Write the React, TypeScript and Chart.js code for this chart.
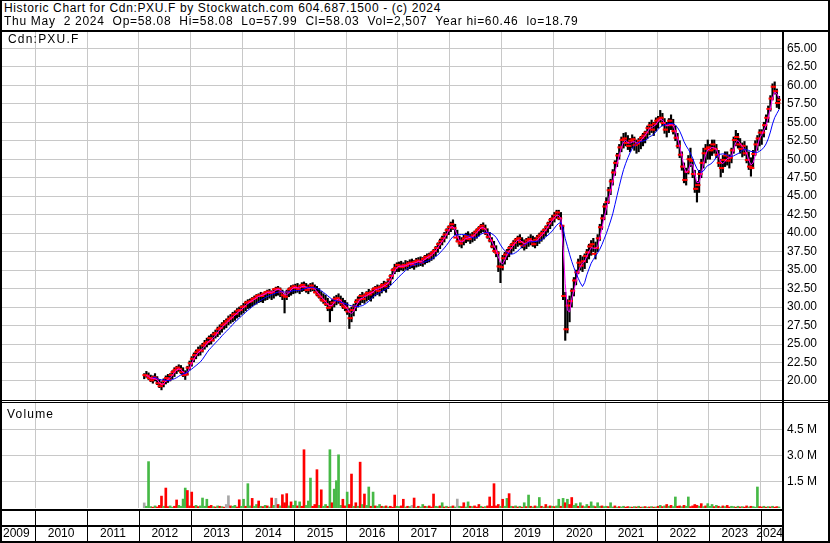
import React, { useEffect, useRef } from "react";
import { Chart, registerables } from "chart.js";

Chart.register(...registerables);

const FONT = "'Liberation Sans', Arial, sans-serif";

// Half-month periods, first one = first half of Feb 2012
const FIRST_PERIOD = 2012 + 1 / 12;
const PERIODS_PER_YEAR = 24;

const lows: number[] = [
  20.3, 20.5, 20.2, 19.9, 19.7, 20.0, 19.5, 19.1, 18.8, 19.2, 19.6, 19.8, 20.0, 20.3, 20.6, 21.0, 21.3, 21.0, 20.6, 20.2, 20.8, 21.5,
  22.0, 22.6, 23.0, 23.4, 23.5, 23.9, 24.3, 24.6, 24.9, 25.0, 25.4, 25.8, 26.0, 26.3, 26.6, 27.0, 27.2, 27.6, 27.8, 28.0, 28.2, 28.5, 28.7, 29.0,
  29.2, 29.5, 29.8, 29.9, 30.1, 30.3, 30.4, 30.6, 30.7, 30.6, 30.9, 31.0, 31.2, 31.0, 31.2, 31.5, 31.6, 31.4, 31.0, 29.2, 31.0, 31.4, 31.6, 31.8,
  31.9, 32.0, 31.8, 32.1, 32.2, 32.0, 31.8, 32.1, 32.2, 31.9, 31.5, 31.2, 30.8, 30.5, 30.2, 29.5, 28.0, 29.5, 30.0, 30.3, 30.5, 30.2, 29.8, 29.5,
  29.0, 27.1, 28.0, 28.8, 29.5, 30.0, 30.3, 30.6, 30.5, 30.8, 31.0, 30.8, 31.2, 31.5, 31.7, 31.5, 31.9, 32.2, 32.0, 32.5, 33.0, 33.8, 34.5, 34.8,
  34.8, 35.0, 34.9, 35.1, 35.0, 35.2, 35.3, 35.1, 35.4, 35.5, 35.6, 35.5, 35.8, 36.0, 36.1, 36.3, 36.5, 36.9, 37.4, 37.9, 38.4, 38.8, 39.3, 39.8,
  40.2, 40.5, 39.8, 38.8, 38.2, 38.0, 38.4, 38.7, 38.9, 38.6, 38.8, 39.0, 39.3, 39.6, 40.0, 40.2, 39.8, 39.3, 38.8, 38.0, 37.4, 36.8, 34.8, 33.3,
  35.0, 35.8, 36.4, 36.8, 37.2, 37.6, 37.9, 38.2, 38.4, 38.0, 37.7, 37.9, 38.2, 38.4, 38.2, 38.0, 38.3, 38.6, 38.9, 39.2, 39.6, 40.1, 40.6, 41.0,
  41.5, 42.0, 41.8, 40.5, 31.0, 25.5, 26.5, 28.0, 30.0, 31.5, 33.0, 34.5, 35.0, 34.8, 35.2, 36.0, 36.5, 37.0, 37.5, 36.5, 37.5, 39.0, 40.5, 41.8,
  42.5, 44.0, 45.2, 46.5, 47.8, 49.0, 50.0, 51.0, 51.5, 51.8, 51.3, 51.0, 51.5, 51.2, 50.8, 51.0, 51.4, 51.8, 52.2, 52.8, 53.3, 53.6, 53.2, 53.8,
  54.2, 55.0, 54.5, 53.5, 53.0, 53.6, 54.0, 53.4, 52.5, 51.5, 50.2, 48.5, 46.8, 46.5, 48.0, 49.0, 47.5, 45.5, 44.2, 45.5, 47.5, 48.8, 49.5, 50.0,
  50.0, 50.5, 50.8, 50.2, 49.0, 47.6, 48.2, 49.0, 49.2, 48.8, 49.5, 50.8, 51.8, 51.5, 50.8, 50.3, 50.5, 49.5, 48.6, 47.7, 49.0, 50.5, 51.2, 51.8,
  52.0, 53.0, 54.0, 55.0, 56.5, 58.0, 58.8, 57.0, 56.8,
];

const highs: number[] = [
  21.0, 21.3, 21.1, 20.8, 20.7, 21.0, 20.6, 20.2, 19.9, 20.3, 20.7, 20.9, 21.0, 21.4, 21.8, 22.0, 22.2, 22.1, 21.8, 21.4, 22.0, 22.7,
  23.3, 23.8, 24.2, 24.6, 24.8, 25.1, 25.5, 25.8, 26.1, 26.3, 26.6, 26.9, 27.3, 27.6, 27.9, 28.2, 28.4, 28.8, 29.0, 29.3, 29.5, 29.8, 30.0, 30.2,
  30.5, 30.8, 31.0, 31.1, 31.3, 31.5, 31.7, 31.8, 32.0, 31.9, 32.1, 32.3, 32.4, 32.2, 32.5, 32.7, 32.8, 32.6, 32.3, 31.8, 32.3, 32.6, 32.9, 33.0,
  33.1, 33.2, 33.0, 33.3, 33.4, 33.2, 33.0, 33.2, 33.3, 33.0, 32.8, 32.5, 32.1, 31.8, 31.6, 31.2, 30.8, 31.0, 31.4, 31.6, 31.8, 31.5, 31.2, 30.9,
  30.6, 29.8, 30.0, 30.4, 31.0, 31.4, 31.7, 32.0, 31.8, 32.1, 32.4, 32.2, 32.6, 32.8, 33.0, 32.9, 33.2, 33.5, 33.4, 33.8, 34.4, 35.2, 35.8, 36.0,
  36.1, 36.2, 36.0, 36.3, 36.2, 36.4, 36.5, 36.3, 36.6, 36.7, 36.8, 36.7, 37.0, 37.2, 37.3, 37.5, 37.8, 38.2, 38.7, 39.2, 39.6, 40.1, 40.6, 41.0,
  41.5, 41.8, 41.2, 40.4, 39.6, 39.4, 39.7, 40.0, 40.2, 39.9, 40.1, 40.3, 40.6, 40.9, 41.2, 41.4, 41.1, 40.6, 40.1, 39.4, 38.9, 38.3, 37.5, 36.0,
  37.0, 37.4, 37.8, 38.2, 38.6, 39.0, 39.3, 39.6, 39.8, 39.4, 39.1, 39.3, 39.5, 39.8, 39.6, 39.4, 39.7, 40.0, 40.3, 40.6, 41.0, 41.5, 42.0, 42.4,
  42.8, 43.1, 43.1, 42.8, 41.0, 32.0, 31.0, 31.5, 32.5, 34.0, 35.0, 36.5, 37.0, 36.8, 37.2, 37.8, 38.5, 39.0, 39.3, 38.8, 39.8, 41.2, 42.5, 44.0,
  44.8, 46.2, 47.3, 48.6, 49.8, 50.8, 52.0, 53.0, 53.5, 53.6, 53.2, 52.8, 53.3, 53.0, 52.6, 52.8, 53.1, 53.5, 53.8, 54.5, 55.0, 55.3, 55.0, 55.6,
  55.8, 56.6, 56.2, 55.5, 55.0, 55.5, 56.0, 55.4, 54.5, 53.5, 52.5, 51.0, 49.5, 48.8, 50.5, 51.5, 50.0, 48.5, 47.0, 48.5, 50.0, 51.5, 52.0, 52.6,
  52.0, 52.6, 52.6, 52.0, 51.2, 50.0, 50.5, 51.0, 51.0, 50.6, 51.5, 53.0, 53.9, 53.5, 52.8, 52.2, 52.4, 51.8, 51.0, 50.2, 51.2, 52.5, 53.2, 54.0,
  54.0, 55.0, 56.0, 57.2, 58.6, 60.2, 60.46, 59.5, 58.5,
];

const closes: number[] = [
  20.8, 20.7, 20.4, 20.1, 20.5, 20.3, 19.7, 19.3, 19.6, 20.0, 20.4, 20.2, 20.8, 21.2, 21.5, 21.8, 21.6, 21.2, 20.8, 20.9, 21.8, 22.4,
  23.0, 23.5, 23.9, 24.2, 24.1, 24.8, 25.1, 25.3, 25.8, 25.5, 26.3, 26.5, 27.0, 27.2, 27.6, 27.8, 28.1, 28.4, 28.6, 29.0, 29.1, 29.5, 29.6, 30.0,
  30.1, 30.6, 30.7, 30.8, 31.1, 31.2, 31.5, 31.6, 31.5, 31.8, 32.0, 32.1, 31.9, 32.0, 32.4, 32.5, 32.4, 32.0, 31.6, 31.4, 32.0, 32.4, 32.6, 32.8,
  32.6, 32.4, 32.8, 33.0, 32.7, 32.3, 32.6, 32.9, 32.5, 32.0, 31.7, 31.4, 31.0, 30.8, 30.4, 29.9, 30.2, 30.6, 31.1, 31.2, 30.9, 30.5, 30.1, 29.9,
  29.4, 28.5, 29.6, 30.1, 30.7, 31.0, 31.5, 31.1, 31.6, 31.9, 31.7, 32.0, 32.4, 32.6, 32.2, 32.7, 33.0, 32.8, 33.2, 33.7, 34.2, 35.0, 35.3, 35.7,
  35.5, 35.4, 35.7, 35.6, 35.9, 36.0, 35.7, 36.1, 36.3, 36.2, 36.0, 36.5, 36.8, 36.7, 37.0, 37.3, 37.6, 38.0, 38.5, 38.9, 39.3, 39.8, 40.4, 40.8,
  41.2, 40.7, 39.4, 38.9, 38.6, 39.0, 39.3, 39.6, 39.2, 39.5, 39.7, 40.1, 40.4, 40.7, 41.0, 40.6, 40.0, 39.5, 39.0, 38.2, 37.6, 37.3, 35.5, 35.4,
  36.6, 37.1, 37.5, 38.0, 38.4, 38.7, 39.1, 39.3, 38.8, 38.3, 38.6, 39.0, 39.2, 38.9, 38.5, 39.1, 39.4, 39.7, 40.0, 40.4, 40.8, 41.3, 41.8, 42.0,
  42.4, 42.8, 42.0, 41.0, 31.5, 27.0, 30.2, 30.8, 32.2, 33.6, 34.7, 36.0, 35.6, 36.2, 36.9, 37.4, 38.2, 38.5, 37.2, 38.0, 39.3, 40.8, 42.0, 43.6,
  44.2, 45.8, 47.0, 48.2, 49.5, 50.5, 51.6, 52.6, 52.8, 52.2, 51.8, 52.5, 52.7, 51.9, 52.1, 52.5, 52.9, 53.2, 53.6, 54.2, 54.6, 54.0, 54.8, 55.2,
  55.4, 55.6, 54.9, 54.0, 54.6, 55.2, 54.6, 53.8, 52.9, 51.8, 50.6, 49.0, 47.2, 48.3, 50.0, 49.8, 48.0, 46.0, 46.5, 48.0, 49.5, 50.8, 51.4, 51.6,
  51.2, 52.0, 51.4, 50.6, 49.5, 48.8, 49.9, 50.5, 49.8, 50.2, 51.2, 52.6, 53.0, 52.0, 51.4, 51.8, 50.8, 49.9, 49.0, 48.8, 50.7, 52.0, 52.8, 53.6,
  53.6, 54.6, 55.6, 56.8, 58.2, 59.8, 59.2, 57.6, 58.03,
];

// Volume per period, in millions of shares
const volumesM: number[] = [
  0.29, 0.10, 2.65, 0.08, 0.05, 0.12, 0.06, 0.15, 0.68, 0.10, 1.14, 0.08, 0.12, 0.05, 0.10, 0.46, 0.15, 0.10, 0.51, 1.14, 1.00, 0.12,
  0.91, 0.10, 0.15, 0.08, 0.12, 0.57, 0.10, 0.50, 0.10, 0.15, 0.08, 0.06, 0.12, 0.10, 0.08, 0.05, 0.20, 0.70, 0.12, 0.10, 0.15, 0.06, 0.47, 0.10,
  0.50, 0.10, 1.39, 0.12, 0.55, 0.10, 0.20, 0.40, 0.10, 0.08, 0.15, 0.12, 0.06, 0.57, 0.15, 0.55, 0.20, 0.12, 0.76, 0.30, 0.82, 0.12, 0.35, 0.15,
  0.40, 0.12, 0.35, 0.10, 3.33, 0.15, 0.40, 1.71, 0.10, 0.20, 2.19, 0.15, 1.04, 0.10, 0.20, 0.10, 3.33, 0.30, 1.08, 1.56, 3.04, 0.15, 0.50, 0.12,
  0.91, 0.20, 1.94, 0.10, 0.30, 0.10, 2.62, 0.20, 0.80, 0.15, 1.20, 0.10, 0.91, 0.12, 0.10, 0.20, 0.10, 0.08, 0.12, 0.06, 0.10, 0.05, 0.74, 0.10,
  0.08, 0.12, 0.50, 0.06, 0.10, 0.08, 0.15, 0.57, 0.05, 0.10, 0.06, 0.20, 0.10, 0.08, 0.12, 0.06, 0.80, 0.10, 0.08, 0.12, 0.30, 0.06, 0.10, 0.05,
  0.08, 0.12, 0.06, 0.51, 0.10, 0.08, 0.30, 0.06, 0.35, 0.10, 0.08, 0.12, 0.06, 0.20, 0.10, 0.05, 0.08, 0.12, 0.63, 0.10, 1.39, 0.12, 0.20, 0.10,
  0.50, 0.10, 0.55, 0.82, 0.10, 0.08, 0.12, 0.06, 0.10, 0.05, 0.30, 0.08, 0.74, 0.10, 0.06, 0.12, 0.08, 0.60, 0.10, 0.06, 0.20, 0.08, 0.12, 0.10,
  0.08, 0.12, 0.50, 0.10, 0.55, 0.30, 0.50, 0.20, 0.60, 0.15, 0.25, 0.10, 0.30, 0.12, 0.08, 0.20, 0.10, 0.35, 0.12, 0.08, 0.30, 0.10, 0.12, 0.08,
  0.10, 0.08, 0.30, 0.06, 0.12, 0.05, 0.08, 0.06, 0.10, 0.05, 0.08, 0.06, 0.05, 0.08, 0.06, 0.10, 0.05, 0.06, 0.08, 0.05, 0.06, 0.08, 0.05, 0.06,
  0.10, 0.15, 0.08, 0.12, 0.20, 0.10, 0.15, 0.08, 0.63, 0.10, 0.12, 0.08, 0.15, 0.10, 0.63, 0.08, 0.12, 0.20, 0.15, 0.10, 0.25, 0.08, 0.12, 0.25,
  0.10, 0.20, 0.08, 0.15, 0.10, 0.06, 0.12, 0.08, 0.15, 0.06, 0.10, 0.08, 0.05, 0.10, 0.06, 0.08, 0.05, 0.12, 0.06, 0.10, 0.08, 0.05, 1.20, 0.08,
  0.06, 0.10, 0.05, 0.08, 0.06, 0.10, 0.05, 0.08, 0.06,
];

// g = up, r = down, n = unchanged
const volumeDir: string = [
  "ngggrgrrrgrrggrrggggrr",
  "rrgrggggrrgrgrgrnnrggrrg",
  "grggrggrgrgrgrgnrgrrrgrg",
  "grgrrgggrrrgrggrgrggggrr",
  "grrgrgrgrggrgrggrgrgrrrg",
  "grrgrgnrgrggrgrrrggrgrgr",
  "grgngrrggrgrrrgrgrrrrrrg",
  "rggrgrgrgrgrgrgrggrgrgrg",
  "rggrgrgrrggrgrggrggrggrg",
  "grggrgrggrrgrgrgrgrgrgrg",
  "rgrgrgrggrrgrggrrrrgrgrg",
  "ggrgrgrgrrggrgrgrrgrgggr",
  "rgrgrgrrg",
].join("");

const yearTicks: number[] = [2010, 2011, 2012, 2013, 2014, 2015, 2016, 2017, 2018, 2019, 2020, 2021, 2022, 2023, 2024];
const yearLabels: number[] = [2009, 2010, 2011, 2012, 2013, 2014, 2015, 2016, 2017, 2018, 2019, 2020, 2021, 2022, 2023, 2024];
const priceTicks: number[] = [20, 22.5, 25, 27.5, 30, 32.5, 35, 37.5, 40, 42.5, 45, 47.5, 50, 52.5, 55, 57.5, 60, 62.5, 65];
const volumeTicksM: number[] = [1.5, 3.0, 4.5];

const headerLine1 = "Historic Chart for Cdn:PXU.F by Stockwatch.com 604.687.1500 - (c) 2024";
const headerLine2 = "Thu May  2 2024  Op=58.08  Hi=58.08  Lo=57.99  Cl=58.03  Vol=2,507  Year hi=60.46  lo=18.79";
const symbolLabel = "Cdn:PXU.F";
const volumeLabel = "Volume";

// axis ranges
const X_MIN = 2009.321;
const X_MAX = 2024.412;
const P_MIN = 17.43;
const P_MAX = 67.34;
const V_MIN = 0;
const V_MAX = 6.0;

const GRID = "#c8c8c8";

const times = closes.map((_, i) => FIRST_PERIOD + (i + 0.5) / PERIODS_PER_YEAR);

function movingAverage(n: number, start: number) {
  return closes.map((_, i) => {
    if (i < start) return null;
    const a = Math.max(0, i - n + 1);
    let s = 0;
    for (let k = a; k <= i; k++) s += closes[k];
    return s / (i - a + 1);
  });
}

const xScaleBase = (): any => ({
  type: "linear",
  min: X_MIN,
  max: X_MAX,
  offset: false,
  afterBuildTicks: (s: any) => {
    s.ticks = yearTicks.map((v) => ({ value: v }));
  },
  ticks: { display: false, autoSkip: false },
  grid: { color: GRID, lineWidth: 1, drawTicks: false, offset: false },
  border: { display: false },
  afterFit: (s: any) => {
    s.height = 0;
    s.paddingLeft = 0;
    s.paddingRight = 0;
    s.paddingTop = 0;
    s.paddingBottom = 0;
  },
});

function priceConfig(): any {
  const ma1 = movingAverage(3, 1);
  const ma2 = movingAverage(10, 4);
  return {
    type: "line",
    data: {
      datasets: [
        {
          type: "bar",
          data: times.map((x, i) => ({ x, y: [lows[i], highs[i]] })),
          backgroundColor: "#000000",
          borderWidth: 0,
          barThickness: 1.5,
          order: 5,
        },
        {
          type: "line",
          data: times.map((x, i) => ({ x, y: i > 0 ? closes[i - 1] : null })),
          showLine: false,
          pointStyle: "line",
          pointRadius: 1.3,
          pointBorderWidth: 2,
          pointBorderColor: "#ff0000",
          pointBackgroundColor: "#ff0000",
          order: 4,
        },
        {
          type: "line",
          data: times.map((x, i) => ({ x, y: closes[i] })),
          showLine: false,
          pointStyle: "line",
          pointRadius: 1.8,
          pointBorderWidth: 2,
          pointBorderColor: "#ff0000",
          pointBackgroundColor: "#ff0000",
          order: 3,
        },
        {
          type: "line",
          data: times.map((x, i) => ({ x, y: ma1[i] })),
          borderColor: "#ff00ff",
          borderWidth: 1,
          pointRadius: 0,
          tension: 0,
          order: 2,
        },
        {
          type: "line",
          data: times.map((x, i) => ({ x, y: ma2[i] })),
          borderColor: "#0000ff",
          borderWidth: 1,
          pointRadius: 0,
          tension: 0,
          order: 1,
        },
      ],
    },
    options: {
      animation: false,
      responsive: false,
      devicePixelRatio: 1,
      events: [],
      layout: { padding: 0, autoPadding: false },
      plugins: { legend: { display: false }, tooltip: { enabled: false } },
      scales: {
        x: xScaleBase(),
        y: {
          type: "linear",
          position: "right",
          min: P_MIN,
          max: P_MAX,
          afterBuildTicks: (s: any) => {
            s.ticks = priceTicks.map((v) => ({ value: v }));
          },
          ticks: {
            autoSkip: false,
            padding: 5,
            color: "#000000",
            font: { family: FONT, size: 12 },
            callback: (v: number) => Number(v).toFixed(2),
          },
          grid: { color: GRID, lineWidth: 1, drawTicks: false },
          border: { display: false },
          afterFit: (s: any) => {
            s.width = 48;
            s.paddingTop = 0;
            s.paddingBottom = 0;
          },
        },
      },
    },
  };
}

const yearRowsPlugin = {
  id: "yearRows",
  afterDraw(chart: any) {
    const ctx = chart.ctx;
    const xs = chart.scales.x;
    const area = chart.chartArea;
    const right = area.right;
    const y0 = Math.round(area.bottom) + 1;
    ctx.save();
    ctx.fillStyle = "#000000";
    ctx.fillRect(0, y0, right, 2);
    ctx.fillRect(0, y0 + 16, right, 2);
    yearTicks.forEach((yr) => {
      const px = Math.round(xs.getPixelForValue(yr));
      ctx.fillRect(px, y0 + 2, 1, chart.height - y0 - 2);
    });
    ctx.font = `12px ${FONT}`;
    ctx.textAlign = "left";
    ctx.textBaseline = "alphabetic";
    yearLabels.forEach((yr) => {
      const a = xs.getPixelForValue(yr);
      const b = xs.getPixelForValue(yr + 1);
      const text = String(yr);
      const w = ctx.measureText(text).width;
      let x = (a + b) / 2 - w / 2;
      x = Math.max(3, Math.min(right + 1 - w, x));
      ctx.fillText(text, x, y0 + 28);
    });
    ctx.restore();
  },
};

function volumeConfig(): any {
  const colorFor: Record<string, string> = { g: "#46b946", r: "#ff0000", n: "#a8a8a8" };
  return {
    type: "bar",
    data: {
      datasets: [
        {
          type: "bar",
          data: times.map((x, i) => ({ x, y: volumesM[i] })),
          backgroundColor: times.map((_, i) => colorFor[volumeDir[i]] || "#46b946"),
          borderWidth: 0,
          barThickness: 2,
        },
      ],
    },
    options: {
      animation: false,
      responsive: false,
      devicePixelRatio: 1,
      events: [],
      layout: { padding: { left: 0, right: 0, top: 0, bottom: 35 }, autoPadding: false },
      plugins: { legend: { display: false }, tooltip: { enabled: false } },
      scales: {
        x: xScaleBase(),
        y: {
          type: "linear",
          position: "right",
          min: V_MIN,
          max: V_MAX,
          afterBuildTicks: (s: any) => {
            s.ticks = volumeTicksM.map((v) => ({ value: v }));
          },
          ticks: {
            autoSkip: false,
            padding: 5,
            color: "#000000",
            font: { family: FONT, size: 12 },
            callback: (v: number) => `${Number(v).toFixed(1)} M`,
          },
          grid: { color: GRID, lineWidth: 1, drawTicks: false },
          border: { display: false },
          afterFit: (s: any) => {
            s.width = 48;
            s.paddingTop = 0;
            s.paddingBottom = 0;
          },
        },
      },
    },
    plugins: [yearRowsPlugin],
  };
}

const bar = (left: number, top: number, width: number, height: number): React.CSSProperties => ({
  position: "absolute",
  left,
  top,
  width,
  height,
  background: "#000",
  pointerEvents: "none",
});

const textStyle = (left: number, top: number, spacing: number): React.CSSProperties => ({
  position: "absolute",
  left,
  top,
  fontFamily: FONT,
  fontSize: 12,
  lineHeight: "14px",
  letterSpacing: `${spacing}px`,
  whiteSpace: "pre",
  color: "#000",
});

export default function App() {
  const priceRef = useRef<HTMLCanvasElement>(null);
  const volRef = useRef<HTMLCanvasElement>(null);

  useEffect(() => {
    document.body.style.margin = "0";
    Chart.defaults.font.family = FONT;
    const pc = new Chart(priceRef.current as HTMLCanvasElement, priceConfig());
    const vc = new Chart(volRef.current as HTMLCanvasElement, volumeConfig());
    return () => {
      pc.destroy();
      vc.destroy();
    };
  }, []);

  return (
    <div style={{ position: "relative", width: 830, height: 543, background: "#fff", overflow: "hidden" }}>
      <canvas ref={priceRef} width={830} height={369} style={{ position: "absolute", left: 0, top: 31 }} />
      <canvas ref={volRef} width={830} height={140} style={{ position: "absolute", left: 0, top: 403 }} />
      <div style={textStyle(4, 1, 0.64)}>{headerLine1}</div>
      <div style={textStyle(4, 14, 0.7)}>{headerLine2}</div>
      <div style={textStyle(8, 32, 1.2)}>{symbolLabel}</div>
      <div style={textStyle(7, 407, 1.2)}>{volumeLabel}</div>
      {/* frame */}
      <div style={bar(0, 0, 830, 1)} />
      <div style={bar(0, 0, 2, 543)} />
      <div style={bar(828, 0, 2, 543)} />
      <div style={bar(0, 541, 830, 2)} />
      <div style={bar(0, 30, 830, 2)} />
      <div style={bar(782, 31, 2, 512)} />
      <div style={bar(0, 400, 830, 1)} />
      <div style={bar(0, 402, 830, 1)} />
    </div>
  );
}
